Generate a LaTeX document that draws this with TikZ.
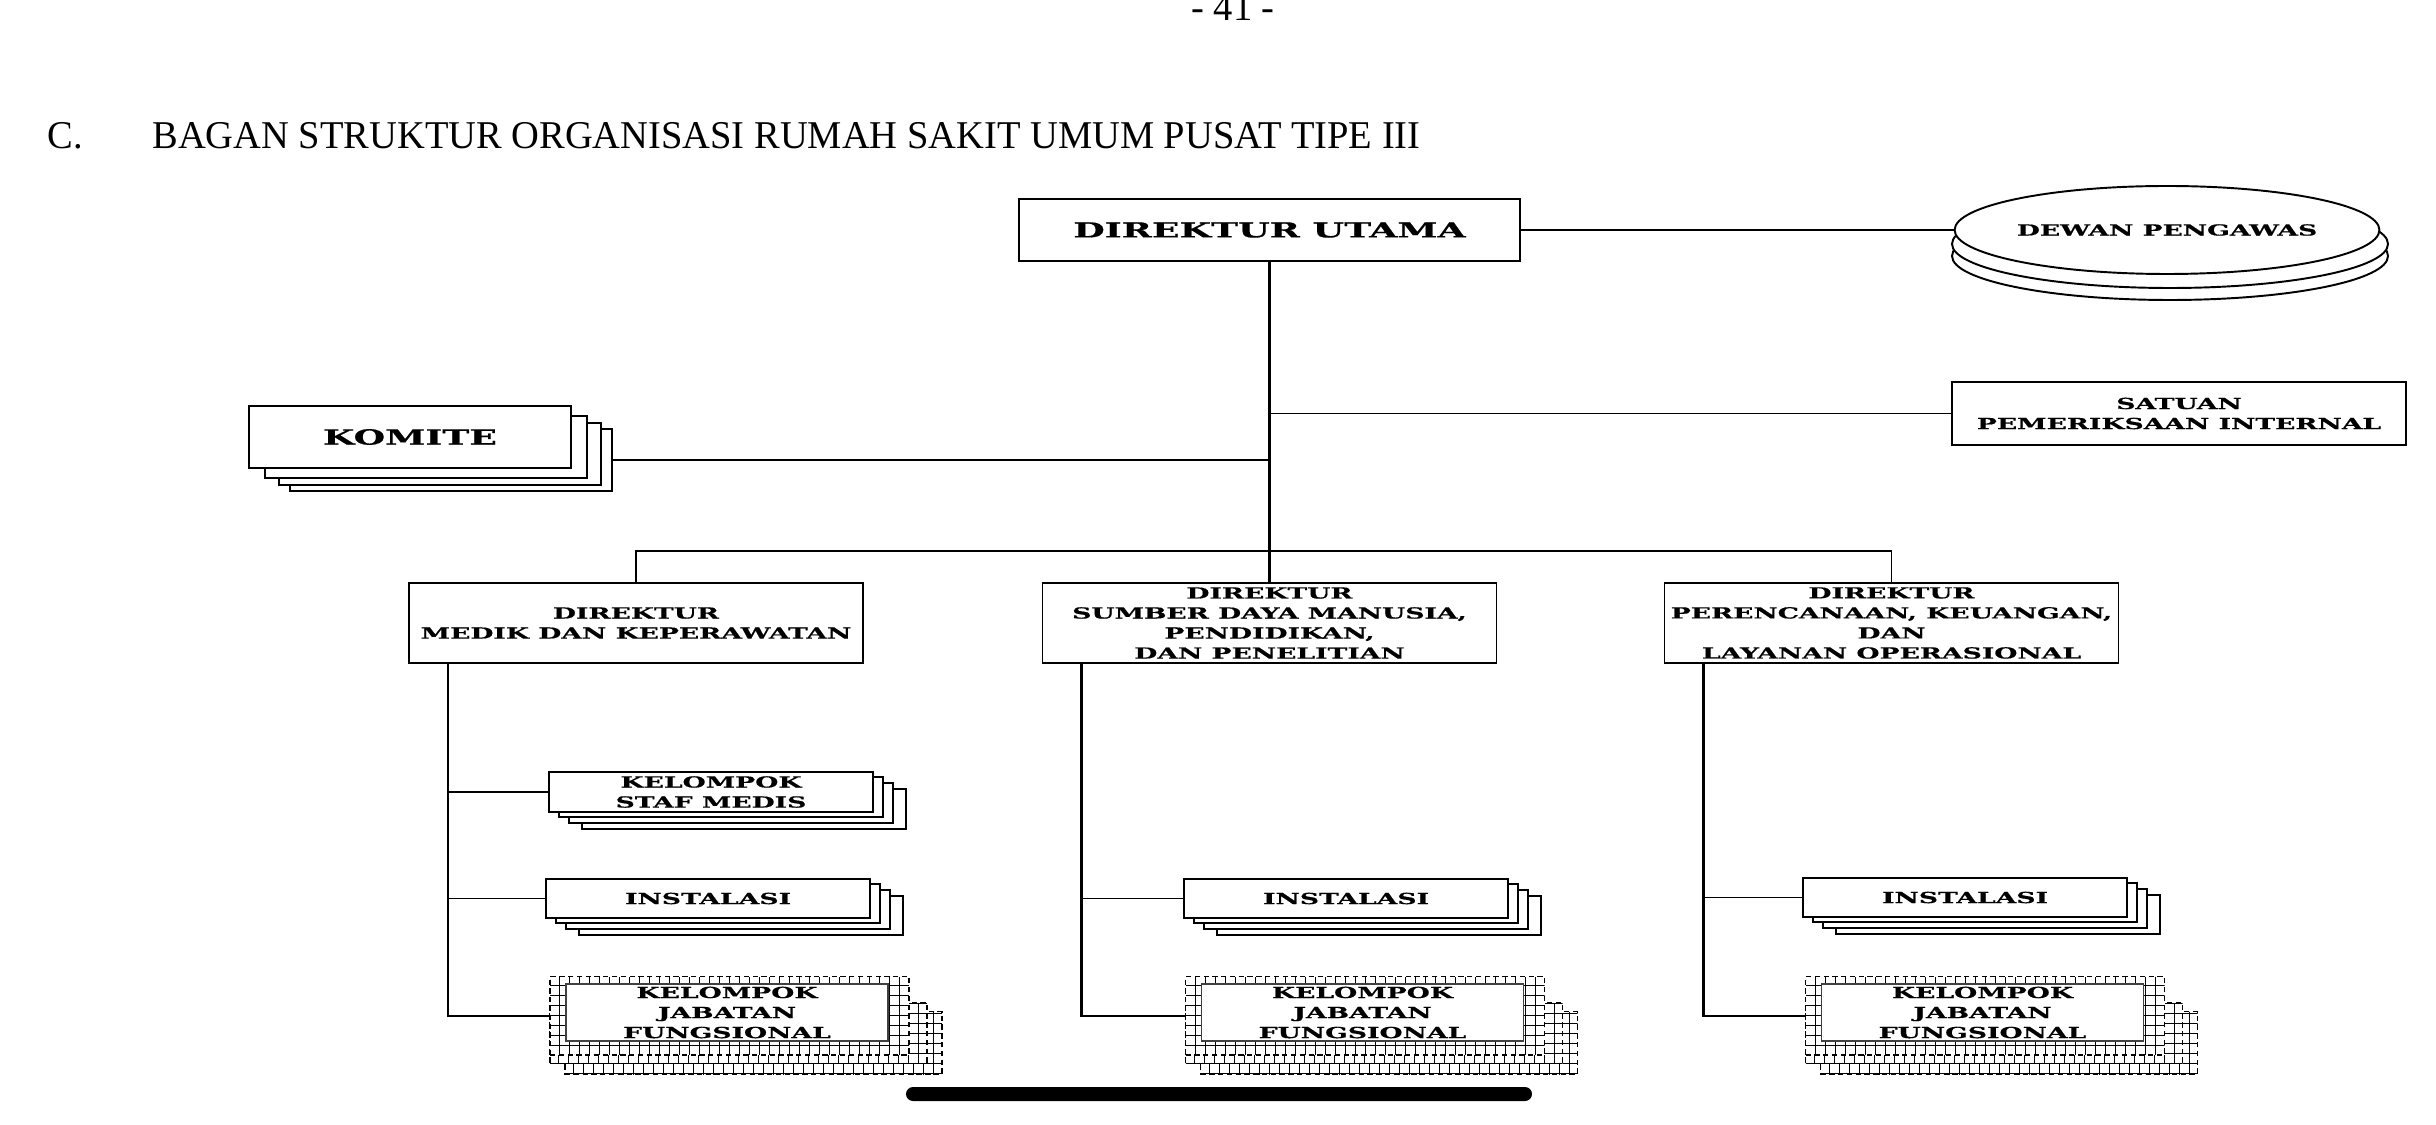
\documentclass[tikz,border=0pt]{standalone}
\usepackage{fontspec}
\setmainfont{Liberation Serif}
\newfontfamily\headfont{Liberation Serif}[FakeStretch=0.978]
\newfontfamily\boxfont{DejaVu Serif}[FakeStretch=1.75, FakeBold=0.6]
\usetikzlibrary{positioning, calc, shadows, shapes.geometric}

\begin{document}
\begin{tikzpicture}[
    unit/.style={
        draw=black, fill=white, line width=1.1pt, inner sep=0pt, align=center,
        font=\boxfont\bfseries\fontsize{8.65}{11.4}\selectfont
    },
    bigunit/.style={unit, font=\boxfont\bfseries\fontsize{11.8}{14}\selectfont},
    headbox/.style={bigunit, minimum width=10.02cm, minimum height=1.24cm},
    council/.style={
        ellipse, draw=black, fill=white, line width=1.1pt, inner sep=0pt,
        minimum width=8.72cm, minimum height=1.76cm,
        font=\boxfont\bfseries\fontsize{8.65}{11.4}\selectfont
    },
    dirbox/.style={unit, minimum width=9.08cm, minimum height=1.6cm},
    komstack/.style={
        copy shadow={shadow xshift=0.82cm, shadow yshift=-0.46cm, draw=black, fill=white, line width=1.1pt},
        copy shadow={shadow xshift=0.60cm, shadow yshift=-0.34cm, draw=black, fill=white, line width=1.1pt},
        copy shadow={shadow xshift=0.32cm, shadow yshift=-0.20cm, draw=black, fill=white, line width=1.1pt}
    },
    substack/.style={
        copy shadow={shadow xshift=0.66cm, shadow yshift=-0.34cm, draw=black, fill=white, line width=1.1pt},
        copy shadow={shadow xshift=0.40cm, shadow yshift=-0.22cm, draw=black, fill=white, line width=1.1pt},
        copy shadow={shadow xshift=0.20cm, shadow yshift=-0.10cm, draw=black, fill=white, line width=1.1pt}
    },
    subbox/.style={unit, substack, minimum width=6.48cm, minimum height=0.79cm},
    gridbox/.style={
        draw=black, dash pattern=on 3pt off 2pt, line width=0.6pt, fill=white, inner sep=0pt,
        path picture={\draw[solid, line width=0.5pt]
            (path picture bounding box.south west) grid[step=0.2]
            (path picture bounding box.north east);}
    },
    kjfbox/.style={unit, draw=black!75, line width=0.9pt, minimum width=6.44cm, minimum height=1.14cm},
    link/.style={line width=1.1pt},
    drop/.style={line width=1.3pt},
    trunk/.style={line width=1.5pt},
    homebar/.style={fill=black, rounded corners=0.14cm, minimum width=12.52cm, minimum height=0.28cm, inner sep=0pt}
]
\useasboundingbox (0,0) rectangle (48.72,-22.5);

% --- Page number and heading ---
\node[font=\headfont\fontsize{22.4}{26}\selectfont, anchor=base, inner sep=0pt] (pageno) at (24.66,-0.42) {- 41 -};
\node[font=\headfont\fontsize{22.4}{26}\selectfont, anchor=base west, inner sep=0pt] (sect) at (0.94,-2.98) {C.};
\node[font=\headfont\fontsize{22.4}{26}\selectfont, anchor=base west, inner sep=0pt] (title) at (3.04,-2.98)
    {BAGAN STRUKTUR ORGANISASI RUMAH SAKIT UMUM PUSAT TIPE III};

% --- Top level ---
\node[headbox] (du) at (25.39,-4.60) {DIREKTUR UTAMA};
\node[council] (dp3) at (43.40,-5.12) {};
\node[council] (dp2) at (43.40,-4.88) {};
\node[council, minimum width=8.32cm] (dp) at (43.34,-4.60) {DEWAN PENGAWAS};
\node[unit, minimum width=9.08cm, minimum height=1.26cm] (spi) at (43.58,-8.27) {SATUAN\\PEMERIKSAAN INTERNAL};
\node[bigunit, komstack, minimum width=6.44cm, minimum height=1.24cm] (komite) at (8.20,-8.74) {KOMITE};

% --- Directors ---
\node[dirbox] (dirmed) at (12.72,-12.46) {DIREKTUR\\MEDIK DAN KEPERAWATAN};
\node[dirbox] (dirsdm) at (25.39,-12.46) {DIREKTUR\\SUMBER DAYA MANUSIA,\\PENDIDIKAN,\\DAN PENELITIAN};
\node[dirbox] (dirkeu) at (37.83,-12.46) {DIREKTUR\\PERENCANAAN, KEUANGAN,\\DAN\\LAYANAN OPERASIONAL};

% --- Units below directors ---
\node[subbox] (ksm) at (14.22,-15.84) {KELOMPOK\\STAF MEDIS};
\node[subbox] (instmed) at (14.16,-17.97) {INSTALASI};
\node[subbox] (instsdm) at (26.92,-17.97) {INSTALASI};
\node[subbox] (instkeu) at (39.30,-17.95) {INSTALASI};

\foreach \k/\x in {kjfmed/14.54, kjfsdm/27.25, kjfkeu/39.65} {
    \coordinate (\k) at (\x,-20.25);
    \node[gridbox, minimum width=7.54cm, minimum height=1.26cm] at ($(\k)+(0.53,-0.61)$) {};
    \node[gridbox, minimum width=7.54cm, minimum height=1.22cm] at ($(\k)+(0.23,-0.41)$) {};
    \node[gridbox, minimum width=7.18cm, minimum height=1.57cm] (\k-grid) at ($(\k)+(0.05,-0.065)$) {};
    \node[kjfbox] (\k-txt) at (\k) {KELOMPOK\\JABATAN\\FUNGSIONAL};
}

% --- Connectors ---
\draw[trunk] (du.south) -- (dirsdm.north);
\draw[link] (du.east) -- (dp.west);
\draw[link] (spi.west) -- (spi.west -| du.south);
\coordinate (komtail) at ($(komite.east)+(0.82,-0.46)$);
\draw[link] (komtail) -- (komtail -| du.south);
\coordinate (bar) at (25.39,-11.02);
\draw[link] (dirmed.north) |- (bar) -| (dirkeu.north);

\foreach \d/\i/\k in {dirmed/instmed/kjfmed, dirsdm/instsdm/kjfsdm, dirkeu/instkeu/kjfkeu} {
    \coordinate (\d-drop) at ($(\d.south west)+(0.8,0)$);
    \draw[drop] (\d-drop) |- (\k-grid.west);
    \draw[link] (\i.west) -- (\i.west -| \d-drop);
}
\draw[link] (ksm.west) -- (ksm.west -| dirmed-drop);

% --- Bottom bar ---
\node[homebar] (bottombar) at (24.38,-21.88) {};

\end{tikzpicture}
\end{document}
